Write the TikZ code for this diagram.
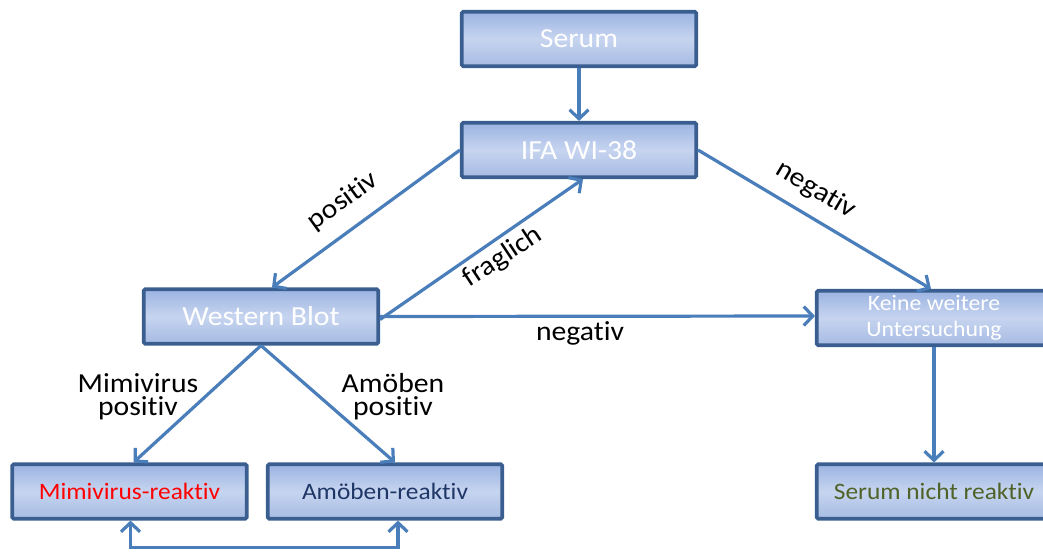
\documentclass[tikz,border=0pt]{standalone}
\usepackage{fontspec}
\setmainfont{Carlito}[FakeStretch=1.08,Ligatures=NoCommon,RawFeature=-liga]
\usetikzlibrary{arrows.meta}
\definecolor{boxborder}{HTML}{3A5E8F}
\definecolor{boxtop}{HTML}{9CB4E2}
\definecolor{boxmid}{HTML}{C6D4EF}
\definecolor{boxbot}{HTML}{A6BBE3}
\definecolor{arrowc}{HTML}{4A7EBB}
\definecolor{navytext}{HTML}{1F3767}
\definecolor{olivetext}{HTML}{4F6228}
\tikzset{
  box/.style={draw=boxborder, line width=3.6pt, rounded corners=1.5pt,
    top color=boxtop, bottom color=boxbot, middle color=boxmid,
    minimum width=234.5pt, minimum height=54.5pt, inner sep=2pt, align=center},
  bigtext/.style={text=white, font=\fontsize{27.5}{30}\selectfont},
  conn/.style={draw=arrowc, line width=3.2pt, -{Straight Barb[length=9pt,width=19pt]}},
  dconn/.style={draw=arrowc, line width=3.2pt, {Straight Barb[length=9pt,width=19pt]}-{Straight Barb[length=9pt,width=19pt]}},
  lab/.style={text=black, font=\fontsize{27.5}{23}\selectfont, align=center, inner sep=0pt}
}
\begin{document}
\begin{tikzpicture}[x=1pt, y=-1pt]
\useasboundingbox (0,0) rectangle (1043,552);
\node[box, bigtext] (serum) at (579,39) {Serum};
\node[box, bigtext] (ifa) at (579,150) {IFA WI-38};
\node[box, bigtext] (wb) at (261,316.5) {Western Blot};
\node[box, text=white, font=\fontsize{22}{26}\selectfont] (keine) at (934,318) {Keine weitere\\Untersuchung};
\node[box, text=red, font=\fontsize{23.5}{26}\selectfont] (mimi) at (129.5,491.5) {Mimivirus-reaktiv};
\node[box, text=navytext, font=\fontsize{23.5}{26}\selectfont] (amo) at (385,491.5) {Amöben-reaktiv};
\node[box, text=olivetext, font=\fontsize{23.5}{26}\selectfont] (snr) at (934,491.5) {Serum nicht reaktiv};

\draw[conn] (serum) -- (ifa);
\draw[conn] (ifa.west) -- ([xshift=11pt]wb.north);
\draw[conn] ([yshift=-3pt]wb.east) -- ([xshift=4pt]ifa.south);
\draw[conn] (ifa.east) -- ([xshift=-3pt]keine.north);
\draw[conn] (wb.east) -- ([yshift=2pt]keine.west);
\draw[conn] (wb.south) -- ([xshift=4pt]mimi.north);
\draw[conn] (wb.south) -- ([xshift=10pt]amo.north);
\draw[conn] (keine.south) -- (snr.north);
\draw[dconn] ([xshift=1pt]mimi.south) -- ++(0,27) -| ([xshift=13pt]amo.south);

\node[lab, rotate=36] (lpos) at (343,201) {positiv};
\node[lab, rotate=33.5] (lfrag) at (503,257) {fraglich};
\node[lab, rotate=-30.7] (lneg1) at (816,190) {negativ};
\node[lab] (lneg2) at (580,333) {negativ};
\node[lab] (lmimi) at (138,397) {Mimivirus\\positiv};
\node[lab] (lamo) at (393,397) {Amöben\\positiv};
\end{tikzpicture}
\end{document}
